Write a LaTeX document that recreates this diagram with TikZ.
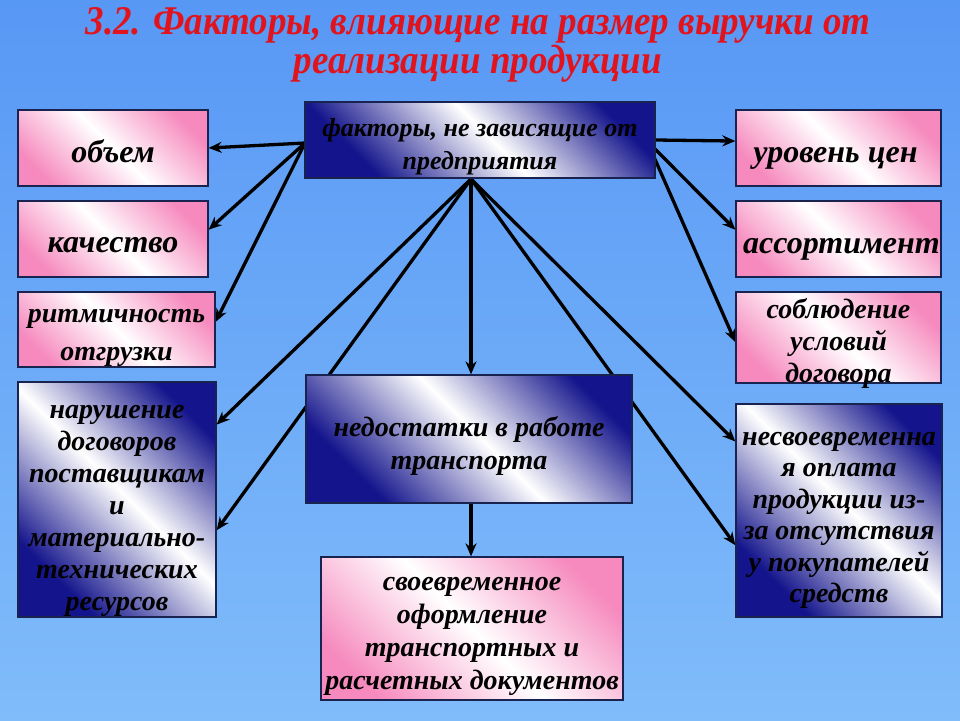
\documentclass[tikz,border=0pt]{standalone}
\usepackage{fontspec}
\setmainfont{Liberation Serif}
\usetikzlibrary{arrows.meta,calc}
\definecolor{bgtop}{RGB}{88,152,245}
\definecolor{bgbot}{RGB}{128,188,250}
\definecolor{pinkc}{RGB}{246,138,190}
\definecolor{navyc}{RGB}{20,20,140}
\definecolor{edgec}{RGB}{25,35,80}
\definecolor{titlec}{RGB}{225,20,30}
\pgfdeclarehorizontalshading{pinkdiag}{100bp}{color(0bp)=(pinkc); color(24bp)=(pinkc); color(50bp)=(white); color(76bp)=(pinkc); color(100bp)=(pinkc)}
\pgfdeclarehorizontalshading{bluediag}{100bp}{color(0bp)=(navyc); color(27bp)=(navyc); color(52bp)=(white); color(76bp)=(navyc); color(100bp)=(navyc)}
\pgfdeclarelayer{back}
\pgfdeclarelayer{mid}
\pgfsetlayers{back,mid,main}
\begin{document}
\begin{tikzpicture}[x=1pt,y=-1pt,
  box/.style={draw=edgec, line width=1.3pt, shade, shading angle=45, inner sep=0pt},
  pinkbox/.style={box, shading=pinkdiag},
  bluebox/.style={box, shading=bluediag},
  lbl/.style={align=center, inner sep=0pt, text=black, font=\fontsize{28}{32}\selectfont\bfseries\itshape},
  biglbl/.style={lbl, font=\fontsize{32}{36}\selectfont\bfseries\itshape},
  arr/.style={line width=3.3pt, draw=black, -{Stealth[length=13pt,width=11pt]}},
  ttl/.style={text=titlec, font=\fontsize{40}{44}\selectfont\bfseries\itshape, inner sep=0pt, anchor=base}]
\useasboundingbox (0,0) rectangle (960,720);
\begin{pgfonlayer}{back}
\fill[top color=bgtop, bottom color=bgbot] (0,0) rectangle (960,720);
\end{pgfonlayer}

% title
\node[ttl] (t1) at (478,34) {\scalebox{0.925}[1.02]{3.2. Факторы, влияющие на размер выручки от}};
\node[ttl] (t2) at (478,73) {\scalebox{0.925}[1.02]{реализации продукции}};

% boxes
\node[bluebox, minimum width=350pt, minimum height=76pt,
  label={[lbl, yshift=-7pt, font=\fontsize{26}{33}\selectfont\bfseries\itshape]center:{факторы, не зависящие от\\предприятия}}] (top) at (480,140) {};

\node[pinkbox, minimum width=190pt, minimum height=76pt,
  label={[biglbl, yshift=-3pt]center:объем}] (obem) at (113,148) {};
\node[pinkbox, minimum width=190pt, minimum height=76pt,
  label={[biglbl, yshift=-6pt]center:качество}] (kach) at (113,239) {};
\node[pinkbox, minimum width=197pt, minimum height=75pt,
  label={[lbl, yshift=-8.5pt, font=\fontsize{28}{38}\selectfont\bfseries\itshape]center:{ритмичность\\отгрузки}}] (ritm) at (116.5,329.5) {};
\node[bluebox, minimum width=198pt, minimum height=235pt,
  label={[lbl, yshift=-11pt]center:{нарушение\\договоров\\поставщикам\\и\\материально-\\технических\\ресурсов}}] (narush) at (117,499.5) {};

\node[pinkbox, minimum width=205pt, minimum height=76pt,
  label={[biglbl, yshift=-10pt, xshift=-3pt]center:уровень цен}] (uroven) at (838.5,148) {};
\node[pinkbox, minimum width=205pt, minimum height=76pt,
  label={[biglbl, yshift=-10pt, xshift=3pt]center:ассортимент}] (assort) at (838.5,239) {};
\node[pinkbox, minimum width=205pt, minimum height=91pt,
  label={[lbl, yshift=-6pt]center:{соблюдение\\условий\\договора}}] (sobl) at (838.5,337.5) {};
\node[bluebox, minimum width=206pt, minimum height=213pt,
  label={[lbl, yshift=-10pt, font=\fontsize{28}{31.5}\selectfont\bfseries\itshape]center:{несвоевременна\\я оплата\\продукции из-\\за отсутствия\\у покупателей\\средств}}] (nesv) at (839,510.5) {};

\node[bluebox, minimum width=326pt, minimum height=128pt,
  label={[lbl, yshift=-6.5pt, font=\fontsize{28}{33}\selectfont\bfseries\itshape]center:{недостатки в работе\\транспорта}}] (nedost) at (469,439) {};
\node[pinkbox, minimum width=302pt, minimum height=143pt,
  label={[lbl, yshift=-8pt, font=\fontsize{28}{33}\selectfont\bfseries\itshape]center:{своевременное\\оформление\\транспортных и\\расчетных документов}}] (svoevr) at (472,628.5) {};

% connectors
\coordinate (tl) at (305,143);
\coordinate (fan) at (471,179);
\coordinate (tr1) at (654,148);
\coordinate (tr2) at (654,157);
\begin{pgfonlayer}{mid}
\draw[arr] (tl) -- (obem.east);
\draw[arr] (tl) -- ($(kach.north east)!0.38!(kach.south east)$);
\draw[arr] (tl) -- ($(ritm.north east)!0.4!(ritm.south east)$);
\draw[arr] (fan) -- ($(narush.north east)!0.183!(narush.south east)$);
\draw[arr] (fan) -- ($(narush.north east)!0.63!(narush.south east)$);
\draw[arr] (fan) -- (fan |- nedost.north);
\draw[arr] (fan) -- ($(nesv.north west)!0.178!(nesv.south west)$);
\draw[arr] (fan) -- ($(nesv.north west)!0.662!(nesv.south west)$);
\draw[arr] (top.east) -- ($(uroven.north west)!0.41!(uroven.south west)$);
\draw[arr] (tr1) -- ($(assort.north west)!0.38!(assort.south west)$);
\draw[arr] (tr2) -- ($(sobl.north west)!0.55!(sobl.south west)$);
\draw[arr] (nedost.south -| fan) -- (svoevr.north -| fan);
\end{pgfonlayer}
\end{tikzpicture}
\end{document}
